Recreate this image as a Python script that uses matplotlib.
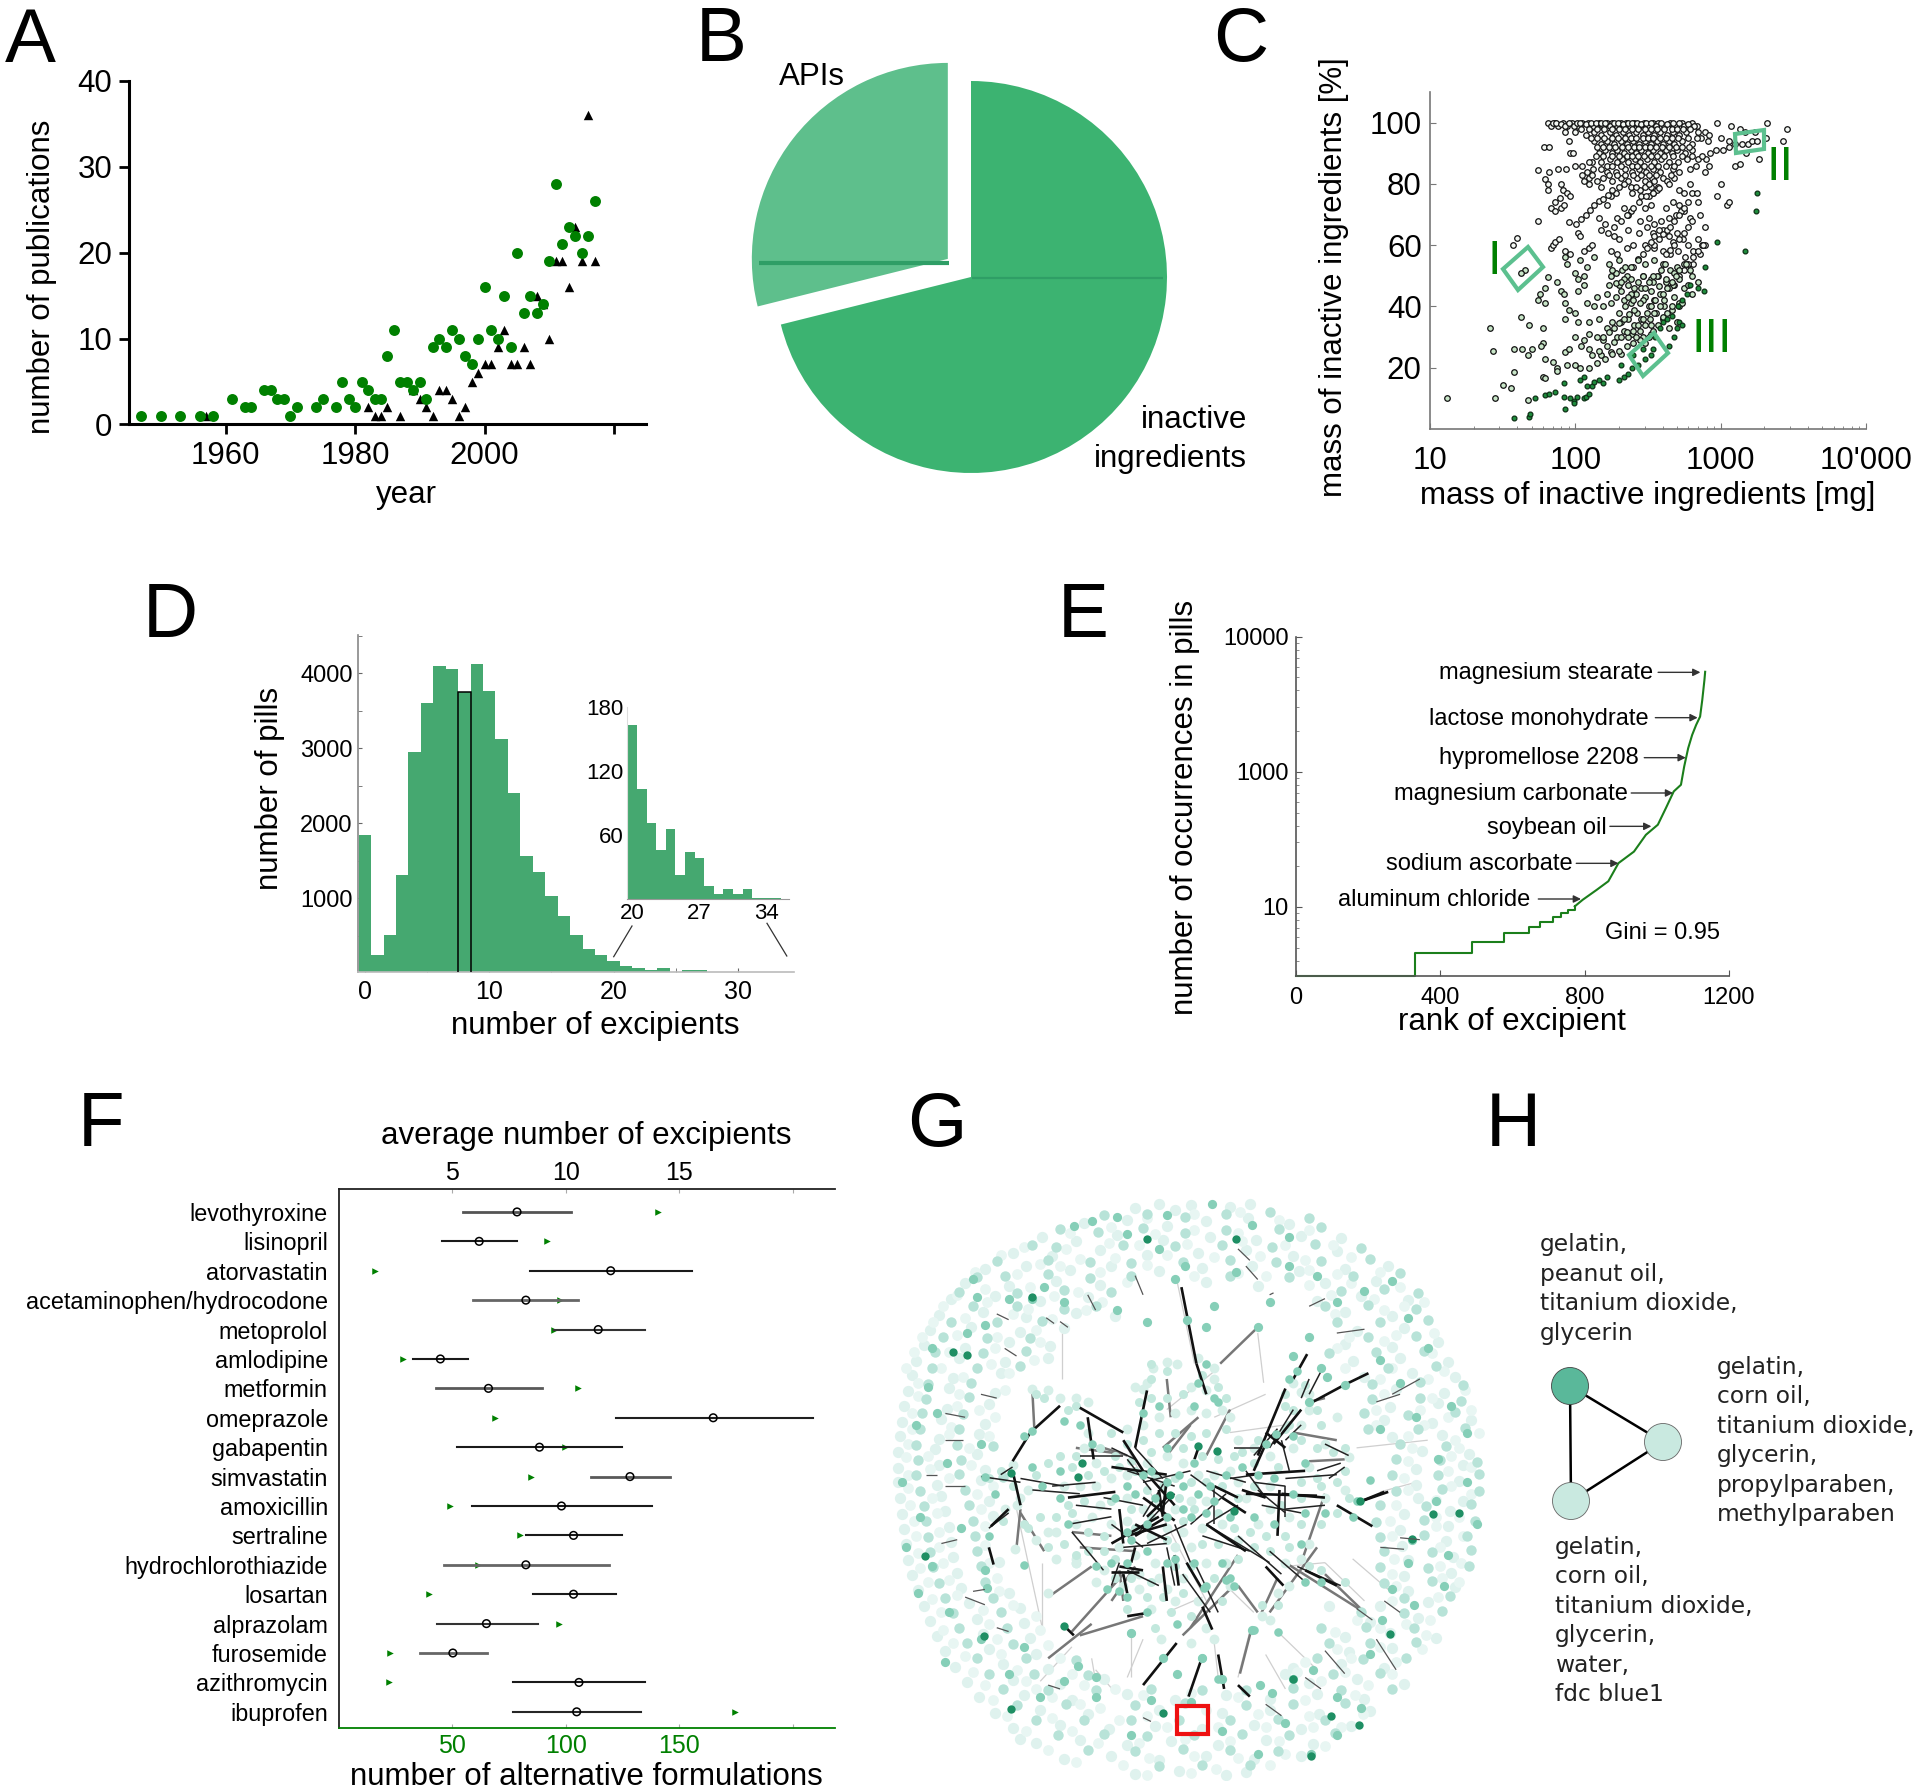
import matplotlib
matplotlib.use('Agg')
import matplotlib.pyplot as plt
from matplotlib.collections import LineCollection
from matplotlib.patches import Circle, Polygon, Rectangle
from matplotlib.ticker import NullFormatter, FixedLocator

plt.rcParams['font.family'] = ['Liberation Sans', 'DejaVu Sans']

W, H = 1920, 1792
GREEN = '#008000'
SEA = '#45A870'
LAB = 22.5

# ---------- A ----------
a_green_year = [1947,1950,1953,1956,1958,1961,1963,1964,1966,1967,1968,1969,1970,1971,1974,1975,1977,1978,1979,1980,1981,1982,1983,1984,1985,1986,1987,1988,1989,1990,1991,1992,1993,1994,1995,1996,1997,1998,1999,2000,2001,2002,2003,2004,2005,2006,2007,2008,2009,2010,2011,2012,2013,2014,2015,2016,2017]
a_green_n = [1,1,1,1,1,3,2,2,4,4,3,3,1,2,2,3,2,5,3,2,5,4,3,3,8,11,5,5,4,5,3,9,10,9,11,10,8,7,10,16,11,10,15,9,20,13,15,13,14,19,28,21,23,22,20,22,26]
a_black_year = [1957,1982,1983,1984,1985,1987,1989,1990,1991,1992,1993,1994,1995,1996,1997,1998,1999,2000,2001,2002,2003,2004,2005,2006,2007,2008,2009,2010,2011,2012,2013,2014,2015,2016,2017]
a_black_n = [1,2,1,1,2,1,4,3,2,1,4,4,3,1,2,5,6,7,7,9,11,7,7,9,7,15,14,10,19,19,16,23,19,36,19]

# ---------- B ----------
b_values = [28.9, 71.1]
b_colors = ['#5EBF8C', '#3CB371']

# ---------- C ----------
c_top = [(65,100),(68,99),(72,100),(76,99),(82,100),(88,99),(95,100),(105,99),(112,100),(122,100),(132,99),(145,100),(155,99),(165,100),(178,100),(192,99),(205,100),(222,100),(238,99),(255,100),(275,99),(295,100),(320,99),(345,100),(372,100),(410,99),(450,100),(495,99),(540,100),(640,100),(690,99),(950,100),(1180,99),(2100,100),(2850,98),
(85,97),(100,97),(118,96),(135,97),(150,96),(172,97),(190,96),(212,97),(235,96),(262,97),(290,96),(315,97),(350,96),(385,97),(430,96),(470,97),(520,96),(580,97),(700,97),(780,97),(830,96),(1350,98),(1480,97),(1720,97),
(90,94),(135,94),(150,93),(165,94),(185,93),(205,94),(225,93),(250,94),(275,93),(300,94),(330,93),(365,94),(400,93),(440,94),(480,93),(545,94),(640,93),(730,95),(820,94),(1000,95),(1150,94),(1250,93),(1400,93),(1530,93),(1640,94),(1780,94),(2050,95),(2700,94),
(61,92),(66,92),(92,90),(96,90),(145,90),(160,91),(178,90),(195,91),(215,90),(240,91),(262,90),(285,91),(315,90),(345,91),(380,90),(420,91),(460,90),(500,91),(570,90),(640,91),(850,90),(930,91),(1040,91),(1150,92),(1500,90),
(130,87),(150,87),(172,88),(195,87),(210,88),(232,87),(258,88),(280,87),(310,88),(350,87),(390,88),(440,87),(510,87),(590,88),(700,88),(790,88),(830,86),(1850,88),
(55,84.5),(66,84),(76,85),(86,85),(100,86),(120,84),(133,85),(150,85),(165,84),(190,84),(218,85),(245,84),(275,85),(305,84),(345,85),(385,84),(470,85),(520,84),(620,85),(780,84),(1250,86),(1350,86.5),
(62,81.5),(112,83),(125,82),(140,81),(155,82),(180,81),(205,82),(230,81),(265,82),(300,81),(335,82),(400,82),(430,81),(475,82),
(65,80),(80,80),(125,80),(150,79),(215,80),(240,79),(280,78),(330,79),(370,79),(440,80),(520,78),(620,80),(1000,80),
(65,78),(82,78),(88,77),(78,75.5),(72,74),(92,76),(175,76),(190,77),(245,77),(285,76),(320,76),(345,77),(365,78),(560,77),(640,77),(690,77),
(68,72),(72,71),(80,72),(84,73),(165,73),(215,72),(240,71),(300,72),(330,73),(420,72),(470,74),(520,73),(600,74),(560,71),(700,74),(950,76),(1100,73),(1150,74),
(55,68),(90,67.5),(145,69),(160,67),(195,69),(230,70),(280,68),(320,69),(350,67),(390,68),(440,69),(490,70),(530,71),(620,69),(780,66),(720,70),
(105,64),(108,63),(150,65),(185,63),(200,62),(230,65),(275,64),(310,66),(345,64),(400,65),(440,63),(500,64),(550,62),(470,61),(600,60),(650,58),(700,62),(740,60),
(40,62.5),(37,60),(68,59),(70,60),(73,61),(77,62),(85,58),(92,57),(115,58),(125,59),(130,60),(175,58),(195,57),(225,59),(250,60),(300,60),(350,59),(400,58),(450,57),(510,58),(570,56),(650,54),(720,57),(780,60),
(101,67),(110,68.5),(118,70),(127,71.5),(135,73),(145,74.5),(155,75),(168,76.5),(168,64),(185,66),(205,68),(225,70),(250,72),(275,74),(305,76),(340,77),(375,78.6)]
c_top2 = [(70,100),(74,100),(80,99.5),(85,99),(90,100),(98,99),(102,100),(108,100),(118,99.5),(128,100),(138,100),(150,100),(160,100),(172,99),(185,100),(198,100),(212,99.5),(230,100),(246,100),(265,100),(285,99.5),(305,100),(333,100),(360,99),(390,100),(430,99.5),(470,100),(520,100),(560,99),(600,99.5),(660,99),
(110,98),(125,98),(142,98),(158,98),(180,98),(200,98),(220,98),(245,98),(270,98),(300,98),(330,98),(365,98),(410,98),(460,98),(500,98),(550,98),(620,98),
(128,95),(142,95),(158,95),(178,95),(198,95),(218,95),(240,95),(262,95),(290,95),(315,95),(345,95),(385,95),(420,95),(460,95),(510,95),(600,95),(690,95),
(140,92),(155,92),(170,92),(188,92),(208,92),(230,92),(252,92),(275,92),(300,92),(325,92),(360,92),(395,92),(440,92),(490,92),(540,92),(610,92),
(138,89),(155,89),(180,89),(200,89),(225,89),(245,89),(270,89),(295,89),(330,89),(365,89),(410,89),(470,89),(540,89),(640,89),(740,89),
(112,86),(125,87),(165,86),(180,86),(205,86),(245,86),(265,86),(295,86),(330,86),(370,86),(420,86),(480,86),(680,86),
(115,81),(130,83),(170,83),(195,83),(220,83),(250,83),(285,83),(320,83),(360,83),(455,83),(300,79),(320,80),(350,81),(180,78),(200,79),(260,79),
(350,60),(375,62),(400,63.5),(425,65),(450,66),(480,68),(520,70),(560,72),(250,53),(270,55.5),(290,57),(310,59),(330,61),(350,63),(375,65),(420,57),(450,58.5),(480,60),(520,62),(560,64),(600,66),(640,68),(480,47),(520,50),(560,52),(600,54),(650,56),(700,58),(750,60)]
c_mid = [(85,56),(88,54),(108,55),(120,53),(135,56),(170,54),(200,55),(240,53),(270,55),(300,54),(350,55),(400,54),(450,52),(500,53),(560,54),(640,50),(700,48),(620,52),
(45,52),(42,51),(65,49.5),(75,48),(100,51),(105,49),(115,50),(175,50),(190,51),(210,52),(225,50),(170,47),(240,49),(290,50),(330,49),(370,50),(420,48),(470,47),(520,49),(560,46),(600,47),
(62,46),(57,44),(55,42),(80,45),(84,44),(105,45),(115,47),(140,43),(165,44),(190,43),(205,45),(260,44),(285,46),(300,43),(330,45),(350,42),(380,44),(410,42),(440,46),(480,43),(520,41),(640,44),
(62,41),(85,41),(90,39),(100,38),(120,41),(135,40),(155,40),(175,41),(200,38),(220,40),(240,41),(265,38),(290,42),(320,40),(360,38),(405,40),(460,39),(520,40),(545,41),
(42,36.5),(48,34),(60,33),(26,33),(85,36),(105,35),(125,35),(145,36),(165,33),(180,35),(205,35),(230,36),(255,34),(285,36),(330,34),(400,36),(440,33),(500,35),
(38,26),(27,25.5),(60,28),(58,27),(100,30),(115,29),(125,31),(140,30),(155,29),(195,30),(215,32),(245,31),(290,30),
(43,26),(50,26),(47,24),(62,23),(70,22),(85,25),(90,26),(110,27),(125,26),(150,24),(175,25),(205,24.5),
(38,18.5),(32,14.5),(36,13.5),(28,10),(13,10),(47,9.5),(60,17),(62,16.5),(75,20),(75,19),(88,21),(100,21),(108,20),(125,20),(140,21.5),(160,23),(180,24.5),(200,25.5),(225,27),(250,28),(280,29),(330,31),(156,30),(170,31.5),(185,33),(200,34.5),(215,36),(235,37.5),(255,39),(280,41),(375,46.6),(420,49),(480,51),(580,54)]
c_mid2 = [(230,30),(250,32),(270,34),(290,36),(310,38),(330,40),(355,42),(260,30),(280,32),(300,34),(325,36),(350,38),(380,40),(300,28),(320,30),(345,32),(370,34),(400,36.5),(430,38),(460,40),(130,24),(145,25.5),(165,27),(185,28.5),(205,30),(225,31.5),(240,44),(255,46),(270,48),(290,50),(215,42),(230,43),(250,42),(340,48),(365,50),(390,52),(415,54),(300,46),(320,48),(340,50),(400,44),(430,46),(460,48),(490,50),(520,52),(200,47),(215,49),(230,47),(180,52),(190,47.5),(205,48),(220,53)]
c_low = [(38,3.5),(48,4),(49,5),(85,6.5),(53,10),(62,11),(66,11.5),(72,12),(83,15),(83,10.5),(92,10),(98,9),(98,8.5),(102,10.5),(115,10),(118,10.5),(125,11.5),(120,14),(108,16),(115,17),(130,14),(135,15.5),(145,16),(155,15),(165,17),(200,16),(215,17),(230,18),(205,21),(245,20),(270,21),(300,23),(330,24),(345,26),(290,26),(250,24),(355,30),(380,33),(400,35),(430,36),(460,37),(500,33),(520,35),(540,34),(440,27),(480,30),(510,40),(540,42),(590,44),(620,47),(700,46),(770,45),(1480,58),(1750,71),(1780,77),(950,61),(780,53)]

# ---------- D ----------
d_bins = list(range(0, 35))
d_counts = [1850,250,510,1310,2950,3610,4100,4055,3745,4120,3770,3130,2410,1570,1345,1030,760,510,320,250,163,103,71,46,66,23,44,39,12,5,10,5,10,1,1]
d_inset_bins = list(range(20, 36))
d_inset_counts = [163,103,71,46,66,23,44,39,12,5,10,5,10,1,1,1]

# ---------- E ----------
e_step_rank = [0,330,489,576,645,678,713,736,755,773]
e_step_occ = [31,45.5,55.5,63.8,71.6,78,84,90,95.5,101]
e_line_rank = [773,795,834,866,894,937,970,1003,1025,1047,1067,1076,1087,1098,1109,1120,1126,1132,1134]
e_line_occ = [101,113,134,155,211,257,342,406,537,716,802,1096,1496,1875,2223,2564,3404,4786,5500]
e_names = ['magnesium stearate','lactose monohydrate','hypromellose 2208','magnesium carbonate','soybean oil','sodium ascorbate','aluminum chloride']

# ---------- F ----------
f_drugs = ['levothyroxine','lisinopril','atorvastatin','acetaminophen/hydrocodone','metoprolol','amlodipine','metformin','omeprazole','gabapentin','simvastatin','amoxicillin','sertraline','hydrochlorothiazide','losartan','alprazolam','furosemide','azithromycin','ibuprofen']
f_mean = [7.85,6.18,11.98,8.24,11.43,4.47,6.59,16.5,8.84,12.83,9.81,10.34,8.24,10.34,6.5,5.02,10.58,10.48]
f_low = [5.46,4.54,8.43,5.92,9.49,3.26,4.28,12.2,5.19,11.09,5.87,8.24,4.61,8.55,4.3,3.57,7.66,7.66]
f_high = [10.22,7.83,15.56,10.56,13.5,5.7,8.94,20.9,12.46,14.59,13.79,12.46,11.91,12.2,8.77,6.52,13.5,13.31]
f_alt = [140.6,91.8,15.9,97.3,94.9,28,105.6,68.8,99.5,84.8,48.8,79.7,61.4,39.9,96.9,22.7,22,174.6]
f_line_gray = [0.33,0.1,0.1,0.4,0.2,0.1,0.35,0.12,0.1,0.35,0.1,0.1,0.4,0.1,0.2,0.4,0.1,0.15]

# ---------- G (layout positions of the network) ----------
g_pale = [(620,72),(680,64),(720,78),(760,66),(860,70),(910,62),(490,112),(600,104),(700,120),(800,108),(905,100),(1010,116),(385,150),(470,160),(575,144),(690,156),(810,150),(925,158),(1040,146),(1140,152),(310,190),(410,198),(530,184),(650,196),(780,190),(900,182),(1020,198),(1130,186),(240,232),(345,224),(455,236),(560,226),(680,238),(790,230),(915,226),(1035,238),(1150,232),(1260,224),(190,270),(300,276),(420,264),(530,274),(800,266),(930,278),(1100,270),(1230,264),(155,312),(265,304),(380,316),(500,306),(1080,316),(1190,304),(1310,314),(125,352),(235,344),(345,358),(470,348),(570,356),(1150,346),(1270,356),(100,392),(205,384),(330,398),(440,388),(1180,394),(1300,386),(85,430),(190,438),(300,424),(405,434),(1150,428),(1270,436),(1385,424),(65,472),(175,464),(290,476),(400,466),(1170,472),(1290,464),(1410,476),(55,510),(160,518),(280,504),(1200,514),(1320,504),(1430,516),(45,552),(150,544),(265,556),(1280,546),(1400,556),(35,590),(145,598),(250,586),(1265,594),(1385,584),(30,632),(130,624),(240,638),(1250,628),(1370,636),(1470,626),(25,670),(125,678),(225,664),(1270,672),(1395,666),(20,712),(115,704),(220,716),(1345,708),(1465,716),(20,752),(125,746),(240,758),(1330,754),(1450,746),(20,790),(120,798),(230,784),(1330,796),(1440,786),(25,832),(130,826),(250,838),(1335,830),(1450,838),(30,872),(140,866),(260,878),(1300,874),(1415,866),(35,912),(150,906),(1290,914),(1410,904),(40,952),(155,946),(1295,956),(1405,944),(45,992),(160,986),(275,998),(1310,994),(1425,984),(55,1032),(170,1026),(1300,1036),(1420,1026),(70,1072),(180,1066),(300,1078),(1310,1074),(1430,1064),(85,1112),(200,1106),(330,1118),(1240,1114),(1360,1104),(100,1152),(220,1146),(340,1158),(1215,1154),(1335,1144),(120,1192),(235,1186),(355,1198),(1150,1194),(1265,1184),(1380,1196),(140,1232),(250,1226),(370,1238),(1160,1234),(1270,1224),(165,1272),(285,1266),(400,1278),(1020,1274),(1140,1264),(1250,1276),(195,1312),(310,1306),(430,1318),(540,1304),(1060,1314),(1180,1304),(1300,1316),(225,1352),(340,1346),(460,1358),(600,1344),(720,1358),(850,1346),(960,1356),(1080,1344),(1200,1356),(265,1392),(380,1384),(500,1396),(680,1386),(840,1394),(960,1384),(1085,1396),(1215,1388),(310,1432),(430,1424),(555,1436),(670,1426),(790,1436),(920,1424),(1040,1436),(1165,1426),(370,1472),(480,1464),(600,1476),(710,1466),(830,1476),(950,1464),(1070,1474),(440,1512),(560,1504),(680,1516),(800,1506),(920,1514),(1040,1504),(620,1552),(730,1544),(850,1554),(900,1546),(330,1462),(1110,1112),(1000,1290)]
g_pale2 = [(650,100),(770,90),(885,84),(985,104),(455,138),(560,122),(670,140),(770,130),(880,138),(1060,130),(1120,170),(340,176),(445,180),(555,164),(630,170),(750,168),(890,160),(1000,170),(1165,200),(280,196),(380,220),(480,206),(570,204),(700,196),(820,202),(935,198),(1050,208),(1240,240),(215,240),(320,246),(430,226),(530,240),(650,222),(770,250),(880,244),(950,252),(1060,236),(1130,246),(170,300),(240,286),(355,280),(475,292),(600,266),(1060,274),(1165,268),(1290,280),(135,330),(245,320),(350,336),(415,304),(535,318),(1115,300),(1225,310),(1350,320),(110,370),(190,360),(310,350),(410,362),(495,340),(1125,350),(1250,340),(1300,330),(80,410),(170,404),(270,410),(370,392),(1160,410),(1280,405),(1375,400),(60,450),(150,450),(265,440),(380,424),(1130,440),(1250,420),(1370,452),(40,490),(130,490),(255,480),(365,470),(1150,490),(1270,490),(1400,500),(70,530),(185,515),(300,505),(1240,520),(1360,520),(1455,550),(70,565),(175,560),(290,550),(1250,560),(1370,570),(1470,600),(55,610),(170,590),(225,600),(1230,600),(1340,600),(1410,620),(55,650),(155,645),(265,620),(1230,640),(1350,640),(1490,660),(45,690),(150,665),(250,670),(1310,670),(1430,680),(40,725),(95,720),(200,700),(1320,700),(1440,700),(45,770),(100,755),(205,745),(1310,735),(1420,720),(1470,750),(45,805),(150,780),(260,800),(1300,780),(1410,760),(50,850),(105,830),(220,820),(1310,810),(1420,800),(1470,820),(60,890),(120,870),(230,860),(1280,850),(1380,835),(1440,880),(65,930),(125,920),(240,905),(1265,890),(1380,880),(70,975),(125,960),(240,955),(1270,930),(1380,905),(1450,930),(75,1015),(135,1000),(250,1000),(1275,990),(1390,960),(1445,1000),(95,1050),(150,1045),(270,1040),(1270,1030),(1390,1010),(1440,1050),(105,1095),(170,1085),(275,1075),(1280,1060),(1395,1040),(130,1130),(235,1125),(310,1110),(1270,1100),(1385,1090),(135,1175),(250,1160),(370,1140),(1180,1150),(1305,1160),(1365,1150),(160,1210),(270,1200),(380,1175),(1125,1180),(1240,1170),(1355,1190),(190,1245),(280,1240),(400,1215),(1130,1225),(1240,1220),(1345,1225),(210,1285),(320,1280),(430,1250),(1050,1260),(1165,1250),(1280,1260),(240,1320),(345,1310),(460,1290),(1030,1285),(1150,1285),(1270,1290),(260,1360),(370,1330),(490,1320),(570,1330),(1090,1310),(1210,1320),(295,1400),(410,1350),(480,1370),(640,1345),(760,1340),(880,1350),(1050,1360),(1175,1345),(345,1440),(410,1405),(530,1380),(650,1400),(800,1385),(930,1395),(1060,1400),(1195,1395),(400,1490),(460,1440),(580,1410),(700,1430),(830,1430),(950,1430),(1070,1430),(1140,1430),(470,1520),(525,1470),(630,1470),(745,1460),(860,1465),(985,1465),(1100,1480),(590,1530),(655,1510),(770,1505),(880,1510),(1000,1500),(650,1555),(760,1550),(825,1540),(960,1530)]
g_light = [(540,92),(650,88),(745,96),(850,90),(960,84),(1060,98),(430,128),(525,136),(640,126),(745,138),(850,130),(985,128),(1090,124),(360,170),(420,176),(590,170),(720,172),(840,170),(965,176),(1075,168),(1190,178),(270,212),(400,210),(505,214),(610,216),(740,214),(860,210),(975,214),(1090,212),(1215,206),(220,254),(290,250),(400,246),(505,256),(610,250),(860,250),(1010,254),(1170,250),(1290,244),(175,292),(320,294),(440,288),(560,292),(1140,290),(1250,286),(1335,294),(210,330),(320,330),(440,336),(520,330),(1100,330),(1210,326),(1330,336),(155,370),(270,372),(385,368),(1130,372),(1240,370),(1360,366),(135,410),(245,412),(355,414),(1210,410),(1330,408),(115,450),(235,452),(345,446),(1110,452),(1230,450),(1350,448),(105,492),(220,490),(330,486),(1260,492),(1380,486),(95,532),(205,530),(1220,534),(1340,528),(1450,536),(90,572),(200,568),(1220,572),(1340,570),(1445,578),(80,610),(185,612),(1200,608),(1310,614),(1430,606),(75,652),(175,650),(1210,650),(1335,652),(1455,648),(65,692),(170,692),(260,696),(1290,690),(1405,694),(70,732),(180,732),(1280,730),(1390,732),(1485,736),(65,772),(175,768),(285,776),(1270,770),(1385,772),(1490,768),(75,812),(190,810),(1280,812),(1395,808),(1490,814),(85,852),(200,850),(1240,850),(1355,852),(1470,848),(90,892),(210,890),(1230,894),(1350,888),(1480,892),(95,932),(215,930),(1240,934),(1350,928),(1460,930),(100,972),(220,970),(1250,970),(1370,972),(1470,966),(110,1012),(230,1010),(1240,1012),(1360,1014),(1465,1010),(125,1052),(240,1050),(1250,1052),(1370,1048),(140,1092),(260,1092),(1300,1092),(1415,1088),(160,1132),(280,1128),(1190,1130),(1300,1132),(1395,1126),(175,1170),(295,1170),(1090,1172),(1205,1168),(1325,1172),(195,1210),(310,1212),(1110,1210),(1215,1210),(1330,1208),(220,1250),(345,1250),(470,1254),(1080,1250),(1195,1252),(1305,1248),(250,1292),(365,1290),(500,1294),(1120,1292),(1240,1288),(285,1330),(400,1332),(520,1334),(660,1330),(790,1332),(900,1334),(1020,1328),(1140,1332),(1270,1330),(320,1372),(445,1370),(620,1372),(745,1368),(900,1372),(1020,1370),(1150,1368),(370,1412),(490,1410),(610,1412),(730,1410),(860,1412),(980,1408),(1100,1410),(425,1450),(540,1448),(650,1452),(770,1450),(890,1448),(1010,1450),(1125,1446),(500,1490),(620,1492),(740,1488),(860,1490),(980,1492),(680,1532),(790,1528),(910,1530)]
g_mid = [(575,96),(700,92),(815,62),(915,118),(1010,150),(510,108),(465,120),(600,140),(680,180),(745,225),(875,240),(1010,226),(390,280),(300,310),(220,305),(440,320),(360,310),(1080,250),(1130,320),(1200,290),(1270,265),(210,260),(195,400),(105,440),(240,380),(1310,360),(1360,440),(1240,470),(1290,530),(1420,590),(1330,620),(1240,650),(1460,660),(120,610),(65,640),(30,790),(145,740),(230,690),(95,540),(75,880),(40,960),(180,910),(105,1010),(70,1078),(240,1020),(150,1130),(245,1065),(1385,730),(1460,790),(1380,840),(1485,900),(1320,940),(1410,980),(1310,1000),(1270,1070),(1400,1060),(1325,1110),(1245,1150),(1215,1240),(1070,1280),(1130,1350),(1190,1380),(965,1340),(1000,1420),(1130,1450),(1065,1500),(930,1500),(840,1440),(760,1365),(660,1360),(610,1450),(520,1350),(440,1310),(380,1350),(300,1290),(230,1200),(140,1260),(340,1220),(475,1270),(520,1300),(610,1185),(725,1290),(840,1305),(690,1250),(935,1320),(1020,1305),(790,1250),(915,1175),(1060,410),(1105,515),(1090,490),(1150,535),(800,385),(750,367),(930,385),(650,370),(575,340),(1020,460),(1060,580),(720,260),(820,330),(960,320)]
g_dark = [(875,155),(650,155),(160,450),(195,457),(305,767),(485,740),(475,775),(780,695),(827,708),(708,823),(870,865),(88,983),(238,1192),(1373,873),(1440,870),(1320,937),(1185,1425),(1265,1187),(305,1383),(1065,1505),(1115,1400),(360,305),(1188,840),(440,1165),(1020,1305),(690,1392)]
g_center_pale = [(650,530),(665,490),(700,475),(725,480),(780,465),(820,490),(800,550),(760,540),(640,545),(620,540),(820,520),(1040,555),(1020,530),(1060,560),(430,570),(360,545),(400,550),(470,570),(500,580),(310,745),(330,830),(350,810),(320,850),(290,860),(1100,690),(1160,725),(1150,810),(1100,830),(940,1140),(960,1150),(800,1170),(820,1200),(660,1120),(685,1200),(760,1210),(600,650),(640,640),(680,620),(720,610),(760,600),(800,610),(840,600),(860,620),(500,660),(490,700),(520,740),(480,800),(440,800),(530,850),(510,880),(470,900),(400,920),(370,940),(420,990),(470,1000),(540,1020),(520,1050),(590,1060),(630,1070),(700,1070),(740,1040),(780,1100),(720,1100),(850,1000),(880,940),(930,900),(960,860),(1010,880),(1060,950),(1000,1000),(1040,990),(1010,1060),(980,1080),(880,680),(920,700),(960,720),(1020,700),(1060,750),(880,790),(860,760),(900,830),(960,800),(820,770),(780,770),(740,740),(700,720),(650,740),(600,770),(560,780),(600,830),(640,860),(680,850),(720,860),(760,840),(800,840),(840,900),(790,910),(740,920),(700,910),(660,930),(620,980),(580,960),(600,890),(560,900),(520,800),(420,920),(800,1000),(760,960),(720,960),(670,1000),(680,1040),(630,1030),(860,1060),(1130,620),(1040,640),(1060,600),(470,1000),(470,990),(315,965),(400,1080)]
g_center2 = [(560,660),(600,690),(640,680),(680,660),(720,660),(760,670),(800,660),(850,650),(890,710),(930,680),(1000,650),(1040,680),(1080,700),(1120,710),(1150,700),(530,700),(570,720),(610,735),(660,710),(740,700),(790,720),(830,730),(870,720),(920,740),(980,750),(1040,790),(1080,780),(1150,760),(460,750),(500,770),(540,760),(580,750),(620,760),(670,770),(720,780),(760,790),(800,790),(840,800),(880,830),(920,800),(990,850),(1040,830),(1090,800),(1130,790),(1160,830),(450,850),(490,840),(560,840),(610,860),(650,810),(690,800),(730,830),(770,860),(830,870),(870,910),(910,920),(950,930),(1000,930),(1040,900),(1090,900),(1130,870),(420,880),(460,870),(500,920),(540,930),(570,990),(620,910),(660,880),(700,940),(740,890),(790,950),(830,950),(880,990),(920,960),(960,970),(1010,960),(380,880),(350,910),(400,960),(440,950),(500,970),(540,970),(660,1050),(610,1040),(570,1040),(720,1010),(760,1010),(820,1040),(840,1100),(740,1080),(690,1090),(650,1090),(760,1140),(710,1130),(670,1170),(600,1120),(940,1110),(980,1110),(1060,1010),(1090,1020),(1150,1050),(470,980),(340,900),(285,890),(310,800),(280,760),(250,780),(370,770),(400,740),(430,720),(470,720),(660,480),(700,500),(660,520),(630,580),(660,570),(700,570),(740,560),(790,510),(850,570),(830,540),(1000,590),(1020,600),(1080,600),(1090,640),(1010,640),(1050,535),(1000,560),(470,590),(450,600),(390,570),(370,560)]
g_center_mid = [(640,770),(660,760),(700,700),(730,770),(770,740),(810,800),(850,770),(890,750),(930,770),(970,780),(1020,820),(600,800),(570,830),(620,820),(670,830),(700,790),(740,800),(780,820),(820,840),(860,880),(920,880),(970,900),(1040,950),(1050,1050),(1090,1050),(600,920),(650,900),(700,880),(740,860),(760,880),(800,870),(610,940),(650,970),(720,990),(770,1000),(800,1060),(840,1000),(860,1040),(700,1000),(600,1000),(560,1000),(520,1010),(450,900),(430,830),(385,800),(360,750),(430,760),(265,820),(240,775),(510,690),(480,640),(440,630),(360,655),(340,670),(780,530),(770,590),(820,570),(830,580),(680,590),(640,610),(800,480),(1010,520),(1030,500),(950,690),(975,665),(1020,670),(1180,840),(1170,880),(1215,785),(1050,870),(1100,870),(1050,740),(920,1175),(980,1180),(870,1060),(850,1045),(830,1305),(610,1185),(550,1070),(580,1075),(600,1090),(650,1130),(795,1065),(725,1160),(790,1250),(340,1005),(250,930)]
g_heavy = [(737,280,775,480),(775,480,800,560),(1055,455,1020,520),(1150,535,1060,585),(1000,545,930,720),(1040,600,970,690),(355,660,310,735),(310,760,330,850),(430,590,355,660),(480,595,590,660),(500,620,515,730),(650,550,620,700),(590,680,640,760),(560,750,700,770),(700,780,690,870),(580,860,590,950),(450,830,570,815),(640,830,720,890),(600,930,700,900),(560,950,680,880),(620,960,610,1000),(720,980,730,1060),(750,1000,790,1070),(560,1025,630,1025),(590,1030,600,1080),(690,1010,700,1100),(800,900,900,970),(900,770,1050,760),(900,820,1080,825),(950,660,1000,700),(985,810,980,930),(990,820,1100,830),(1130,850,1220,905),(1190,840,1260,815),(1050,1020,1130,1060),(950,1010,995,1060),(790,1115,815,1175),(785,1260,755,1350),(725,1210,640,1320),(830,1240,845,1330),(880,1320,910,1350),(250,960,262,1005),(300,860,255,905),(440,1165,465,1190),(600,1140,660,1130),(1210,505,1150,535),(1250,815,1190,840),(920,760,950,690),(780,700,770,730),(840,830,900,870),(700,830,650,880),(620,900,700,940),(660,780,720,850),(680,810,690,880),(820,800,880,830),(890,810,950,830),(620,930,700,880),(580,1010,640,1020)]
g_fine = [(600,760,720,800),(640,790,760,760),(700,780,640,880),(720,820,620,930),(760,770,840,830),(800,760,900,790),(860,780,930,770),(920,790,1000,800),(850,820,760,900),(880,850,800,900),(900,760,950,830),(930,810,1000,870),(540,830,640,850),(470,850,560,860),(450,900,560,880),(560,900,640,960),(590,960,700,950),(650,950,750,900),(720,900,760,1000),(700,960,720,1060),(600,1020,680,1060),(820,800,820,900),(1000,780,1130,770),(1000,860,1100,850),(1000,800,1000,880),(990,680,1010,760),(1040,640,1000,680),(1020,600,960,700),(920,720,980,650),(940,850,1040,870),(600,730,660,810),(620,700,690,780),(560,700,620,730),(480,720,590,720),(410,800,520,790),(360,810,480,820),(330,780,440,800),(230,775,330,790),(460,920,540,1020),(580,1000,560,1060),(740,1030,810,1130),(770,1000,830,1130),(1080,760,1140,740),(1110,780,1150,750),(1030,1010,1140,1060),(960,970,1050,1050),(880,930,990,1030),(800,900,960,1000),(790,930,910,970),(1100,690,1160,720),(310,750,280,770),(250,910,300,870),(1060,520,1040,570),(1090,500,1060,560),(870,700,940,700)]
g_medium = [(930,385,835,480),(360,550,365,650),(510,1010,400,1090),(590,1030,460,1180),(640,1140,480,1190),(860,1070,740,1190),(880,980,760,1170),(915,1170,885,1290),(980,1040,940,1130),(1080,960,960,1130),(880,1060,930,1130),(1000,1000,1200,1130),(1100,1030,1190,1120),(480,960,620,970),(470,700,580,715),(540,700,600,720),(460,920,560,930),(1150,730,1060,735),(1060,580,1100,570),(700,520,710,620),(760,640,700,720),(780,620,690,700),(330,860,320,960),(330,870,390,970),(1020,660,1130,680),(400,1250,510,1160),(580,1020,590,1100),(1100,820,1040,1000),(860,600,800,720),(620,1010,560,1100)]
g_faint = [(725,260,770,480),(435,400,435,520),(930,400,945,530),(610,1180,610,1300),(1180,700,1360,680),(1240,815,1330,790),(385,1000,385,1170),(320,860,385,1170),(510,1250,520,1310),(600,700,800,1100),(700,600,820,500),(860,660,1000,640),(1000,1010,1100,1000),(860,1070,920,1130),(980,1180,1080,1280),(460,1220,380,1310),(950,1240,1000,1330),(1170,990,1260,1070),(880,1300,910,1180),(820,1210,830,1300),(640,1200,600,1300),(520,1280,570,1340),(700,1130,790,1090),(1100,1000,1200,1100),(820,620,950,560)]
g_ring_strokes = [(270,350,300,365),(430,370,450,385),(395,360,415,375),(900,225,930,260),(960,300,970,295),(290,440,320,460),(230,560,270,570),(140,610,190,620),(140,680,185,680),(90,770,120,770),(140,800,190,800),(130,950,170,940),(210,1075,240,1070),(270,1170,300,1180),(400,1320,430,1330),(640,1405,660,1415),(1050,1300,1090,1330),(1290,935,1340,940),(1240,960,1300,965),(1250,1100,1290,1130),(1230,1200,1280,1280),(1100,1230,1150,1290),(1230,580,1290,560),(1130,400,1200,390),(1060,330,1100,310),(620,250,640,300),(500,300,520,340),(880,180,910,210),(1340,520,1270,560),(1180,1120,1220,1150),(190,1090,240,1110),(950,1370,990,1400)]

# ---------- H ----------
h_labels_1 = ['gelatin,','peanut oil,','titanium dioxide,','glycerin']
h_labels_2 = ['gelatin,','corn oil,','titanium dioxide,','glycerin,','propylparaben,','methylparaben']
h_labels_3 = ['gelatin,','corn oil,','titanium dioxide,','glycerin,','water,','fdc blue1']

fig = plt.figure(figsize=(W/100, H/100), dpi=100, facecolor='white')

def axpx(l, t, r, b):
    return fig.add_axes([l/W, 1-b/H, (r-l)/W, (b-t)/H])

ov = fig.add_axes([0, 0, 1, 1], zorder=20)
ov.set_xlim(0, W); ov.set_ylim(H, 0); ov.axis('off'); ov.patch.set_alpha(0)

for letter, x, y in [('A',5,62),('B',696,61),('C',1213,61),('D',143,637),('E',1058,637),('F',78,1146),('G',907,1146),('H',1486,1146)]:
    ov.text(x, y, letter, fontsize=55, ha='left', va='baseline')

# A
ax = axpx(129, 81, 646, 424.5)
ax.scatter(a_green_year, a_green_n, s=62, color=GREEN, linewidths=0, zorder=3, clip_on=False)
ax.scatter(a_black_year, a_black_n, s=46, marker='^', color='black', linewidths=0, zorder=2, clip_on=False)
ax.set_xlim(1945.1, 2024.9); ax.set_ylim(0, 40)
ax.set_xticks([1960, 1980, 2000, 2020]); ax.set_xticklabels(['1960','1980','2000',''])
ax.set_yticks([0,10,20,30,40])
for s in ['top','right']: ax.spines[s].set_visible(False)
for s in ['left','bottom']: ax.spines[s].set_linewidth(2.2)
ax.tick_params(axis='both', width=2, length=7, labelsize=LAB, pad=5)
ov.text(42, 277, 'number of publications', rotation=90, fontsize=LAB, ha='center', va='center')
ov.text(406, 495, 'year', fontsize=LAB, ha='center', va='center')

# B
ax = axpx(691, -3, 1251, 557)
ax.pie(b_values, colors=b_colors, explode=[0.15, 0], startangle=90, radius=1.0, normalize=True)
ax.set_xlim(-280/196, 280/196); ax.set_ylim(-280/196, 280/196)
ov.plot([759, 949], [263, 263], color='#2F9E66', lw=3, solid_capstyle='butt')
ov.plot([972, 1163], [278, 278], color='#2F9E66', lw=1.6, solid_capstyle='butt')
ov.text(812, 77, 'APIs', fontsize=LAB, ha='center', va='center')
ov.text(1194, 420, 'inactive', fontsize=LAB, ha='center', va='center')
ov.text(1170, 459, 'ingredients', fontsize=LAB, ha='center', va='center')

# C
ax = axpx(1430, 92, 1866, 429)
ax.set_xscale('log'); ax.set_xlim(10, 10000); ax.set_ylim(0, 110)
for pts, face, edge, size in [(c_top, '#F4F8F4', '#111111', 16), (c_top2, '#F4F8F4', '#111111', 16), (c_mid, '#C8E6C8', '#111111', 16),
                              (c_mid2, '#C8E6C8', '#111111', 16), (c_low, '#1E8C3C', '#0C3015', 12)]:
    ax.scatter([p[0] for p in pts], [p[1] for p in pts], s=size, facecolor=face, edgecolor=edge, linewidths=0.9, zorder=3, clip_on=False)
ax.set_xticks([10,100,1000,10000]); ax.set_xticklabels(['10','100','1000',"10'000"])
ax.set_yticks([20,40,60,80,100])
for s in ['top','right']: ax.spines[s].set_visible(False)
for s in ['left','bottom']: ax.spines[s].set_color('#777777'); ax.spines[s].set_linewidth(1.2)
ax.tick_params(axis='both', which='major', direction='in', length=4, color='#777777', labelsize=LAB, pad=6)
ax.tick_params(axis='x', which='major', pad=12)
ax.tick_params(axis='x', which='minor', direction='in', length=2.5, color='#777777')
ax.xaxis.set_minor_formatter(NullFormatter())
ov.text(1334, 277, 'mass of inactive ingredients [%]', rotation=90, fontsize=LAB, ha='center', va='center')
ov.text(1648, 496, 'mass of inactive ingredients [mg]', fontsize=LAB, ha='center', va='center')
for ptsd in [[(1528,247),(1543,267),(1518,290),(1503,269)], [(1735,134),(1764,130),(1764,149),(1736,153)], [(1654,333),(1668,353),(1643,376),(1629,355)]]:
    ov.add_patch(Polygon(ptsd, closed=True, fill=False, edgecolor='#5CC08F', lw=3))
ov.text(1494.3, 261, 'I', color=GREEN, fontsize=35, ha='center', va='center')
ov.text(1780.4, 167, 'II', color=GREEN, fontsize=35, ha='center', va='center')
ov.text(1712, 339, 'III', color=GREEN, fontsize=35, ha='center', va='center')

# D
ax = axpx(358.4, 635, 793.8, 971.7)
ax.bar(d_bins, d_counts, width=1.0, color=SEA, linewidth=0, zorder=2)
ax.bar([8], [d_counts[8]], width=1.0, facecolor='none', edgecolor='black', linewidth=1.1, zorder=3)
ax.set_xlim(-0.53, 34.5); ax.set_ylim(22, 4511)
ax.set_xticks([0,10,20,30]); ax.set_yticks([1000,2000,3000,4000])
ax.set_xticks([5,15,25], minor=True); ax.set_yticks([500,1500,2500,3500,4500], minor=True)
for s in ['top','right']: ax.spines[s].set_visible(False)
ax.spines['left'].set_color('#888888'); ax.spines['left'].set_linewidth(1.2)
ax.spines['bottom'].set_color('#BBBBBB'); ax.spines['bottom'].set_linewidth(1.2)
ax.tick_params(axis='both', which='both', direction='in', length=3, color='#666666')
ax.tick_params(axis='y', which='major', labelsize=17, pad=4)
ax.tick_params(axis='x', which='major', labelsize=18, pad=6)
ov.text(270, 788, 'number of pills', rotation=90, fontsize=LAB, ha='center', va='center')
ov.text(595, 1026, 'number of excipients', fontsize=LAB, ha='center', va='center')
ax = axpx(627.3, 706.7, 788.6, 899.3)
ax.patch.set_alpha(0)
ax.bar(d_inset_bins, d_inset_counts, width=1.0, color=SEA, linewidth=0)
ax.set_xlim(19.5, 36.3); ax.set_ylim(0, 180)
ax.set_xticks([20,27,34]); ax.set_yticks([60,120,180])
for s in ['top','right']: ax.spines[s].set_visible(False)
ax.spines['left'].set_color('#DDDDDD'); ax.spines['bottom'].set_color('#999999')
ax.tick_params(axis='both', length=0, labelsize=16, pad=3)
ov.plot([632, 613.7], [926, 956.7], color='#333333', lw=0.9)
ov.plot([767, 786.8], [923.3, 956], color='#333333', lw=0.9)

# E
ax = axpx(1295.5, 636.7, 1729, 975.7)
ax.set_yscale('log')
ax.plot(e_step_rank, e_step_occ, drawstyle='steps-post', color='#1B7F1B', lw=1.5, clip_on=False)
ax.plot(e_line_rank, e_line_occ, color='#1B7F1B', lw=1.5)
ax.set_xlim(0, 1200); ax.set_ylim(31, 10000)
ax.set_xticks([0,400,800,1200])
ax.yaxis.set_major_locator(FixedLocator([100,1000,10000]))
ax.set_yticklabels(['10','1000','10000'])
ax.yaxis.set_minor_formatter(NullFormatter())
for s in ['top','right']: ax.spines[s].set_visible(False)
for s in ['left','bottom']: ax.spines[s].set_color('#555555'); ax.spines[s].set_linewidth(1.2)
ax.tick_params(axis='both', which='major', direction='in', length=4, color='#555555', labelsize=17, pad=5)
ax.tick_params(axis='x', pad=8)
ax.tick_params(axis='y', which='minor', direction='in', length=2, color='#777777')
ov.text(1185, 807, 'number of occurrences in pills', rotation=90, fontsize=LAB, ha='center', va='center')
ov.text(1512, 1022, 'rank of excipient', fontsize=LAB, ha='center', va='center')
e_text_right = [1272,1262,1237,1208,1155,1068,962]
e_text_y = [215,352,470,577,680,787,895]
e_arrow_start = [1285,1278,1250,1217,1163,1078,982]
e_arrow_end = [1392,1385,1355,1323,1268,1185,1090]
e_arrow_y = [217,353,473,579,679,790,897]
for name, tr, ty, a0, a1, ay in zip(e_names, e_text_right, e_text_y, e_arrow_start, e_arrow_end, e_arrow_y):
    ov.text(1150+tr/2.529, 601.5+ty/3, name, fontsize=17, ha='right', va='center')
    ov.annotate('', xy=(1150+a1/2.529, 600+ay/3), xytext=(1150+a0/2.529, 600+ay/3),
                arrowprops=dict(arrowstyle='-|>', color='#333333', lw=1.0, mutation_scale=11, shrinkA=0, shrinkB=0))
ov.text(1150+1297/2.529, 601+995/3, 'Gini = 0.95', fontsize=17, ha='center', va='center')

# F
ax = axpx(339, 1189, 835, 1728)
rows = list(range(len(f_drugs)))
ax.scatter(f_alt, rows, marker='>', s=22, color=GREEN, linewidths=0, zorder=4)
ax.set_xlim(0, 218.7); ax.set_ylim(17.55, -0.78)
ax.set_xticks([50,100,150,200]); ax.set_xticklabels(['50','100','150',''], color=GREEN)
ax.set_yticks(rows); ax.set_yticklabels(f_drugs, fontsize=16.8)
ax.set_yticks([0,5,10,15], minor=True)
ax.tick_params(axis='y', which='major', length=0, pad=8)
ax.tick_params(axis='y', which='minor', direction='in', length=5, color='#555555')
ax.tick_params(axis='x', direction='in', length=3, color='#AAAAAA', labelsize=18, pad=4)
for s in ['top','right']: ax.spines[s].set_visible(False)
ax.spines['bottom'].set_color(GREEN); ax.spines['bottom'].set_linewidth(1.3)
ax.spines['left'].set_color('#222222'); ax.spines['left'].set_linewidth(1.3)
axt = ax.twiny()
axt.set_xlim(0, 21.87)
for i in rows:
    axt.plot([f_low[i], f_high[i]], [i, i], color=str(f_line_gray[i]), lw=1.5 if f_line_gray[i] < 0.3 else 2.0, zorder=2)
axt.scatter(f_mean, rows, s=30, facecolor='none', edgecolor='black', linewidths=1.1, zorder=3)
axt.set_xticks([5,10,15,20]); axt.set_xticklabels(['5','10','15',''])
axt.tick_params(axis='x', direction='in', length=3, color='#AAAAAA', labelsize=18, pad=3)
for s in ['bottom','left','right']: axt.spines[s].set_visible(False)
axt.spines['top'].set_color('#222222'); axt.spines['top'].set_linewidth(1.3)
ov.text(586.5, 1136, 'average number of excipients', fontsize=LAB, ha='center', va='center')
ov.text(586.5, 1777, 'number of alternative formulations', fontsize=LAB, ha='center', va='center')

# G
ax = axpx(890, 1180, 1510, 1780)
ax.set_xlim(0, 1568); ax.set_ylim(1568, 0); ax.axis('off')
def segs(lst):
    return [[(a, b), (c, d)] for a, b, c, d in lst]
ax.add_collection(LineCollection(segs(g_faint), colors='#CFCFCF', linewidths=0.9, zorder=1))
ax.add_collection(LineCollection(segs(g_ring_strokes), colors='#555555', linewidths=0.9, zorder=8))
ax.add_collection(LineCollection(segs(g_medium), colors='#777777', linewidths=1.8, zorder=2))
ax.add_collection(LineCollection(segs(g_fine), colors='#222222', linewidths=1.1, zorder=5.5))
ax.add_collection(LineCollection(segs(g_heavy), colors='#111111', linewidths=1.9, zorder=5.5))
for pts, col, size, z in [(g_pale, '#DFF2EE', 66, 4), (g_pale2, '#E8F6F3', 60, 4), (g_light, '#B8E3D8', 56, 5),
                          (g_center_pale, '#D6EFE8', 50, 5), (g_center2, '#C2E8DD', 42, 5),
                          (g_mid, '#86CFB8', 44, 6), (g_center_mid, '#86CFB8', 38, 6), (g_dark, '#1F8F64', 36, 7)]:
    ax.scatter([p[0] for p in pts], [p[1] for p in pts], s=size, color=col, linewidths=0, zorder=z)
ax.add_patch(Rectangle((727, 1374), 78, 74, fill=False, edgecolor='#EE1111', lw=3, zorder=9))

# H
ov.plot([1570, 1663, 1571, 1570], [1386, 1442, 1501, 1386], color='black', lw=1.8, zorder=1)
ov.add_patch(Circle((1570, 1386), 18.5, facecolor='#5AB89A', edgecolor='#444444', lw=0.6, zorder=2))
ov.add_patch(Circle((1663, 1442), 18.5, facecolor='#C9E9E0', edgecolor='#666666', lw=0.6, zorder=2))
ov.add_patch(Circle((1571, 1501), 18.5, facecolor='#C9E9E0', edgecolor='#666666', lw=0.6, zorder=2))
for labels, x, y0 in [(h_labels_1, 1540, 1245), (h_labels_2, 1717, 1367.5), (h_labels_3, 1555, 1547.5)]:
    for k, t in enumerate(labels):
        ov.text(x, y0+k*29.4, t, family='DejaVu Sans', fontsize=16.8, ha='left', va='center', color='#222222')

fig.savefig('out.png', dpi=100, facecolor='white')
